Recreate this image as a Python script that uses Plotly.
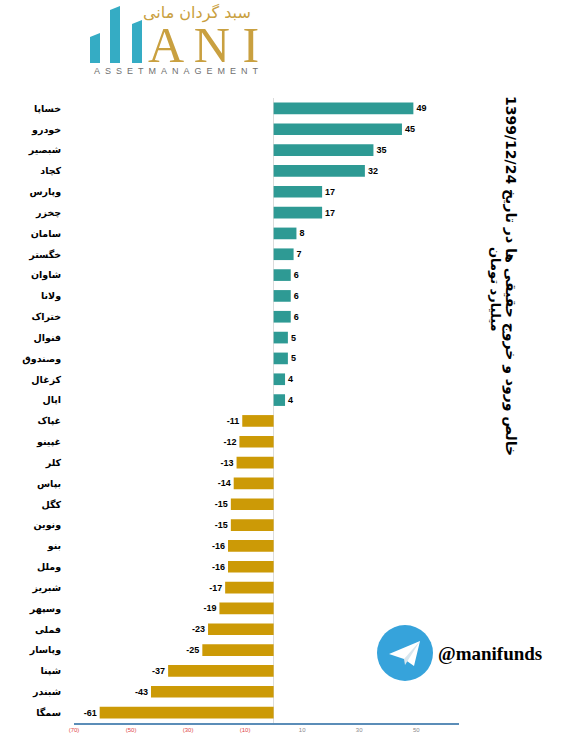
import plotly.graph_objects as go

# ---- data ----
categories = ["خساپا", "خودرو", "شبصیر", "کچاد", "وپارس", "چخزر", "سامان", "خگستر",
              "شاوان", "ولانا", "ختراک", "فنوال", "وصندوق", "کزغال", "اپال",
              "غپاک", "غپینو", "کلر", "بپاس", "کگل", "ونوین", "بنو", "وملل",
              "شبریز", "وسپهر", "فملی", "وپاسار", "شپنا", "شبندر", "سمگا"]
values = [49, 45, 35, 32, 17, 17, 8, 7, 6, 6, 6, 5, 5, 4, 4,
          -11, -12, -13, -14, -15, -15, -16, -16, -17, -19, -23, -25, -37, -43, -61]
tick_vals = [-70, -50, -30, -10, 10, 30, 50]
tick_text = ["(70)", "(50)", "(30)", "(10)", "10", "30", "50"]
title_line1 = "خالص ورود و خروج حقیقی ها در تاریخ 1399/12/24"
title_line2 = "میلیارد تومان"
logo_fa = "سبد گردان مانی"
handle = "@manifunds"

POS = "#2E9A94"
NEG = "#CC9A06"
colors = [POS if v >= 0 else NEG for v in values]

W, H = 561, 740
L, R, T, B = 74, 459, 98, 723


def px(x):
    return (x - L) / (R - L)


def py(y):
    return (B - y) / (B - T)


fig = go.Figure(go.Bar(
    x=values, y=categories, orientation="h",
    marker=dict(color=colors, line=dict(width=0)),
    text=[str(v) for v in values], textposition="outside",
    textfont=dict(family="Arial", size=9, color="black", weight="bold"),
    constraintext="none", cliponaxis=False, hoverinfo="skip",
))

ticktext_html = [
    f'<span style="color:#E04848">{t}</span>' if v < 0 else f'<span style="color:#8a8a8a">{t}</span>'
    for v, t in zip(tick_vals, tick_text)
]

shapes = []
# logo bars (teal)
for (x0, x1, ytl, ytr) in [(90, 100, 37, 33), (110, 120, 10, 6), (132, 142, 24, 20)]:
    path = (f"M {px(x0)},{py(63)} L {px(x0)},{py(ytl)} L {px(x1)},{py(ytr)} "
            f"L {px(x1)},{py(63)} Z")
    shapes.append(dict(type="path", path=path, xref="paper", yref="paper",
                       fillcolor="#35ACC4", line=dict(width=0), layer="above"))
# telegram circle
cx, cy, r = 405, 653, 28
shapes.append(dict(type="circle", xref="paper", yref="paper",
                   x0=px(cx - r), x1=px(cx + r), y0=py(cy + r), y1=py(cy - r),
                   fillcolor="#36A3DB", line=dict(width=0)))
# plane
pts = [(-16, 1), (15, -12), (9, 13), (-1, 6)]
path = "M " + " L ".join(f"{px(cx + a)},{py(cy + b)}" for a, b in pts) + " Z"
shapes.append(dict(type="path", path=path, xref="paper", yref="paper",
                   fillcolor="white", line=dict(width=0)))
pts2 = [(-1, 6), (15, -12), (0, 12)]
path2 = "M " + " L ".join(f"{px(cx + a)},{py(cy + b)}" for a, b in pts2) + " Z"
shapes.append(dict(type="path", path=path2, xref="paper", yref="paper",
                   fillcolor="#D8E6EE", line=dict(width=0)))

annotations = [
    dict(text=f"<b>{title_line1}</b>", x=px(511), y=py(276), xref="paper", yref="paper",
         textangle=90, showarrow=False, xanchor="center", yanchor="middle",
         font=dict(family="DejaVu Sans", size=14, color="black")),
    dict(text=f"<b>{title_line2}</b>", x=px(496), y=py(290), xref="paper", yref="paper",
         textangle=90, showarrow=False, xanchor="center", yanchor="middle",
         font=dict(family="DejaVu Sans", size=13, color="black")),
    dict(text="A N I", x=px(203), y=py(45), xref="paper", yref="paper",
         showarrow=False, xanchor="center", yanchor="middle", height=40, valign="middle",
         font=dict(family="Liberation Serif", size=50, color="#C9A040")),
    dict(text=logo_fa, x=px(197), y=py(13), xref="paper", yref="paper",
         showarrow=False, xanchor="center", yanchor="middle",
         font=dict(family="DejaVu Sans", size=16, color="#C9A040")),
    dict(text="\u00a0\u00a0".join("ASSETMANAGEMENT"), x=px(176), y=py(71), xref="paper",
         yref="paper", showarrow=False, xanchor="center", yanchor="middle",
         font=dict(family="Arial", size=9, color="#6f6f6f")),
    dict(text=f"<b>{handle}</b>", x=px(436), y=py(653), xref="paper", yref="paper",
         showarrow=False, xanchor="left", yanchor="middle",
         font=dict(family="Liberation Serif", size=19, color="black")),
]

fig.update_layout(
    width=W, height=H, autosize=False,
    margin=dict(l=L, r=W - R, t=T, b=H - B, pad=0, autoexpand=False),
    paper_bgcolor="white", plot_bgcolor="white",
    showlegend=False, bargap=0.44,
    shapes=shapes, annotations=annotations,
    xaxis=dict(range=[-70, 65], tickvals=tick_vals, ticktext=ticktext_html,
               tickfont=dict(family="Arial", size=6), showgrid=False,
               showline=True, linecolor="#5B8DB8", linewidth=1.5,
               zeroline=True, zerolinecolor="#dcdcdc", zerolinewidth=1,
               ticks="", fixedrange=True, automargin=False),
    yaxis=dict(autorange="reversed", showgrid=False, showline=False, zeroline=False,
               ticks="outside", ticklen=10, tickcolor="rgba(0,0,0,0)",
               tickfont=dict(family="DejaVu Sans", size=9.5, color="black", weight="bold"),
               fixedrange=True, automargin=False),
)

fig.write_html("out.html", config={"displayModeBar": False},
               post_script="document.body.style.margin='0';document.body.style.overflow='hidden';")
